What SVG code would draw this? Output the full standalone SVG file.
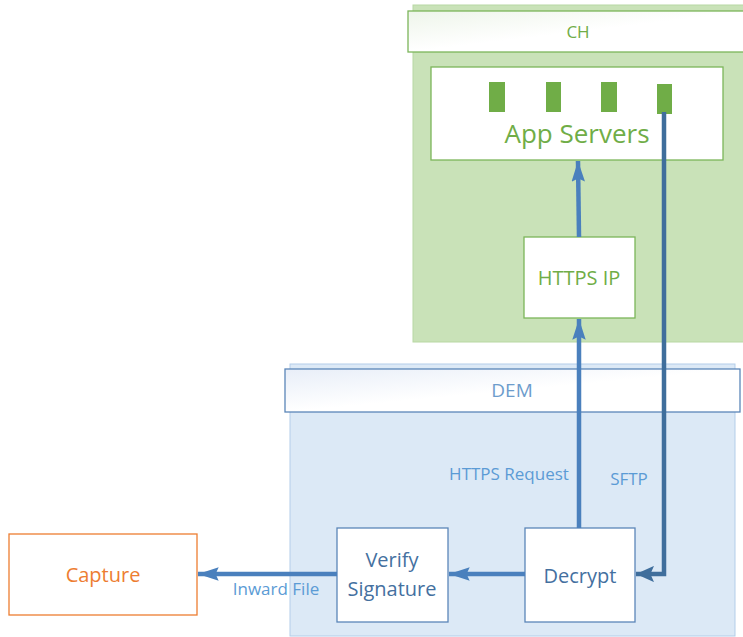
<svg xmlns="http://www.w3.org/2000/svg" width="743" height="637" viewBox="0 0 743 637">
  <style>
    text { font-family: "Open Sans", "Liberation Sans", sans-serif; text-anchor: middle; }
    .green-box { fill: #ffffff; stroke: #7cb55a; stroke-width: 1.3; }
    .blue-box { fill: #ffffff; stroke: #5b86b8; stroke-width: 1.3; }
    .green-txt { fill: #70ad47; }
    .blue-txt { fill: #44709f; }
    .label { fill: #5b9bd5; font-size: 17px; }
    .flow { fill: none; stroke: #4a80bd; stroke-width: 4.5; }
    .flow-dark { fill: none; stroke: #3f6e9c; stroke-width: 4.5; }
  </style>
  <defs>
    <linearGradient id="hdrGreen" x1="0" y1="0" x2="1" y2="1">
      <stop offset="0" stop-color="#eef5ea"/>
      <stop offset="0.5" stop-color="#ffffff"/>
      <stop offset="1" stop-color="#ffffff"/>
    </linearGradient>
    <linearGradient id="hdrBlue" x1="0" y1="0" x2="1" y2="1">
      <stop offset="0" stop-color="#e8eef8"/>
      <stop offset="0.5" stop-color="#ffffff"/>
      <stop offset="1" stop-color="#ffffff"/>
    </linearGradient>
    <!-- long narrow head for the blue flows -->
    <marker id="head" viewBox="0 0 20 13" refX="20" refY="6.5" markerWidth="4.6" markerHeight="3" orient="auto" markerUnits="strokeWidth">
      <path d="M0,0 L20,6.5 L0,13 L3,6.5 Z" fill="#4a80bd"/>
    </marker>
    <!-- broad head for the SFTP return -->
    <marker id="head-dark" viewBox="0 0 10 9" refX="10" refY="4.5" markerWidth="4" markerHeight="3.6" orient="auto" markerUnits="strokeWidth">
      <path d="M0,0 L10,4.5 L0,9 L2,4.5 Z" fill="#3f6e9c"/>
    </marker>
  </defs>

  <!-- CH zone -->
  <g id="ch">
    <rect x="413" y="5" width="340" height="337" fill="#c9e2b8" stroke="#b8d8a3" stroke-width="1"/>
    <rect x="408" y="11" width="345" height="41" fill="url(#hdrGreen)" stroke="#7cb55a" stroke-width="1.3"/>
    <text x="578" y="38" font-size="17" class="green-txt">CH</text>
  </g>

  <!-- DEM zone -->
  <g id="dem">
    <rect x="290" y="364" width="445" height="272" fill="#dce9f6" stroke="#b3cde9" stroke-width="1"/>
    <rect x="285" y="369" width="455" height="43" fill="url(#hdrBlue)" stroke="#5b86b8" stroke-width="1.3"/>
    <text x="512" y="397" font-size="19" fill="#6d9ccc">DEM</text>
  </g>

  <!-- App servers -->
  <g id="app-servers">
    <rect x="431" y="67" width="292" height="93" class="green-box"/>
    <rect x="489" y="82" width="16" height="30" fill="#70ad47"/>
    <rect x="546" y="82" width="15" height="30" fill="#70ad47"/>
    <rect x="601" y="82" width="16" height="30" fill="#70ad47"/>
    <rect x="657" y="84" width="15" height="30" fill="#70ad47"/>
    <text x="577" y="143" font-size="26" class="green-txt">App Servers</text>
  </g>

  <g id="https-ip">
    <rect x="524" y="237" width="111" height="81" class="green-box"/>
    <text x="579" y="285" font-size="20" class="green-txt">HTTPS IP</text>
  </g>

  <g id="decrypt">
    <rect x="525" y="528" width="110" height="94" class="blue-box"/>
    <text x="580" y="583" font-size="20" class="blue-txt">Decrypt</text>
  </g>

  <g id="verify-signature">
    <rect x="337" y="528" width="111" height="94" class="blue-box"/>
    <text x="392" y="567" font-size="20" class="blue-txt">Verify</text>
    <text x="392" y="596" font-size="20" class="blue-txt">Signature</text>
  </g>

  <g id="capture">
    <rect x="9" y="534" width="188" height="81" fill="#ffffff" stroke="#ed7d31" stroke-width="1.3"/>
    <text x="103" y="582" font-size="20" fill="#ed7d31">Capture</text>
  </g>

  <!-- connectors -->
  <g id="connectors">
    <path d="M579,237 L578,161" class="flow" marker-end="url(#head)"/>
    <path d="M579,528 L579,319" class="flow" marker-end="url(#head)"/>
    <path d="M664,112 L664,574 L636,574" class="flow-dark" marker-end="url(#head-dark)"/>
    <path d="M525,574 L449,574" class="flow" marker-end="url(#head)"/>
    <path d="M337,574 L198,574" class="flow" marker-end="url(#head)"/>
  </g>

  <!-- connector labels -->
  <g id="labels">
    <text x="509" y="480" class="label">HTTPS Request</text>
    <text x="629" y="485" class="label">SFTP</text>
    <text x="276" y="595" class="label">Inward File</text>
  </g>
</svg>
